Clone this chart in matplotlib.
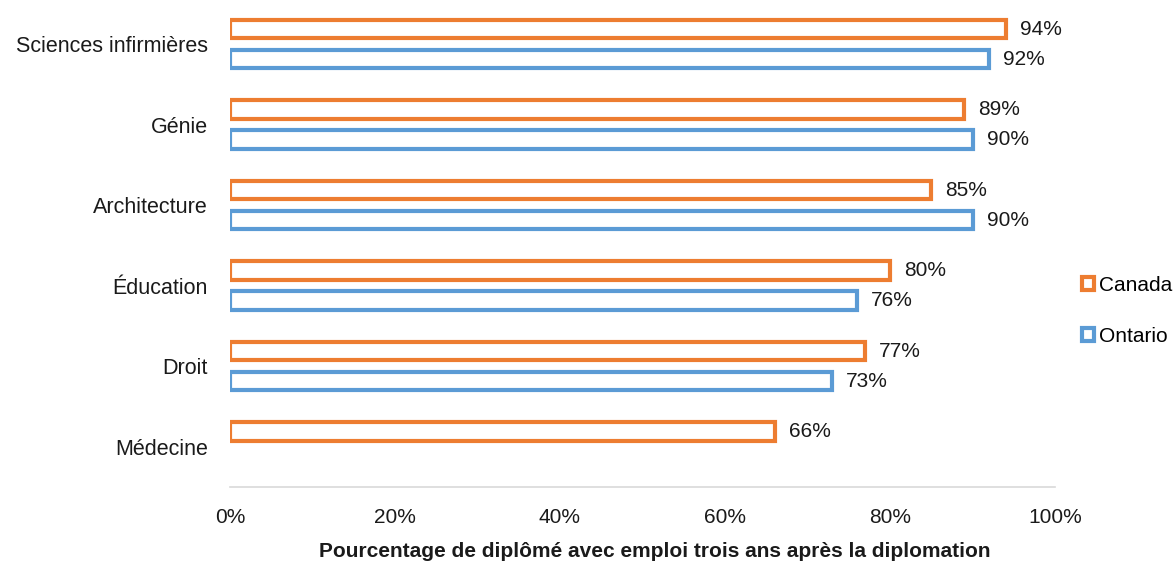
import numpy as np
import matplotlib.pyplot as plt
from matplotlib.patches import Patch

plt.rcParams['font.family'] = ['Liberation Sans', 'DejaVu Sans']

# Top to bottom
programmes = ["Sciences infirmières", "Génie", "Architecture", "Éducation", "Droit", "Médecine"]
canada = [94, 89, 85, 80, 77, 66]
ontario = [92, 90, 90, 76, 73, None]

ORANGE = "#ED7D31"
BLUE = "#5B9BD5"
TXT = "#1a1a1a"

fig = plt.figure(figsize=(11.75, 5.61), dpi=100)
ax = fig.add_axes([0.1957, 0.132, 0.7022, 0.861])

y = np.arange(len(programmes))
h = 0.23
off = 0.186

for i, (c, o) in enumerate(zip(canada, ontario)):
    ax.barh(y[i] - off, c, height=h, facecolor="white", edgecolor=ORANGE, linewidth=3)
    ax.text(c + 1.7, y[i] - off, f"{c}%", va="center", ha="left", fontsize=15, color=TXT)
    if o is not None:
        ax.barh(y[i] + off, o, height=h, facecolor="white", edgecolor=BLUE, linewidth=3)
        ax.text(o + 1.7, y[i] + off, f"{o}%", va="center", ha="left", fontsize=15, color=TXT)

ax.set_ylim(len(programmes) - 0.5, -0.5)
ax.set_xlim(0, 100)
ax.set_yticks(y)
ax.set_yticklabels(programmes, fontsize=15.5, color=TXT)
ax.set_xticks(np.arange(0, 101, 20))
ax.set_xticklabels([f"{v}%" for v in range(0, 101, 20)], fontsize=15, color=TXT)
ax.tick_params(length=0)
ax.tick_params(axis="y", pad=16)
ax.tick_params(axis="x", pad=15)

for side in ["top", "right", "left"]:
    ax.spines[side].set_visible(False)
ax.spines["bottom"].set_color("#D9D9D9")
ax.spines["bottom"].set_linewidth(1.2)

ax.set_xlabel("Pourcentage de diplômé avec emploi trois ans après la diplomation",
              fontsize=15, fontweight="bold", color=TXT)
ax.xaxis.set_label_coords(0.515, -0.113)

handles = [Patch(facecolor="white", edgecolor=ORANGE, linewidth=3, label="Canada"),
           Patch(facecolor="white", edgecolor=BLUE, linewidth=3, label="Ontario")]
fig.legend(handles=handles, loc="center left", bbox_to_anchor=(0.914, 0.446),
           frameon=False, fontsize=15, handlelength=0.55, handleheight=0.55,
           handletextpad=0.25, labelspacing=1.55, borderaxespad=0)

fig.savefig("out.png", dpi=100)
